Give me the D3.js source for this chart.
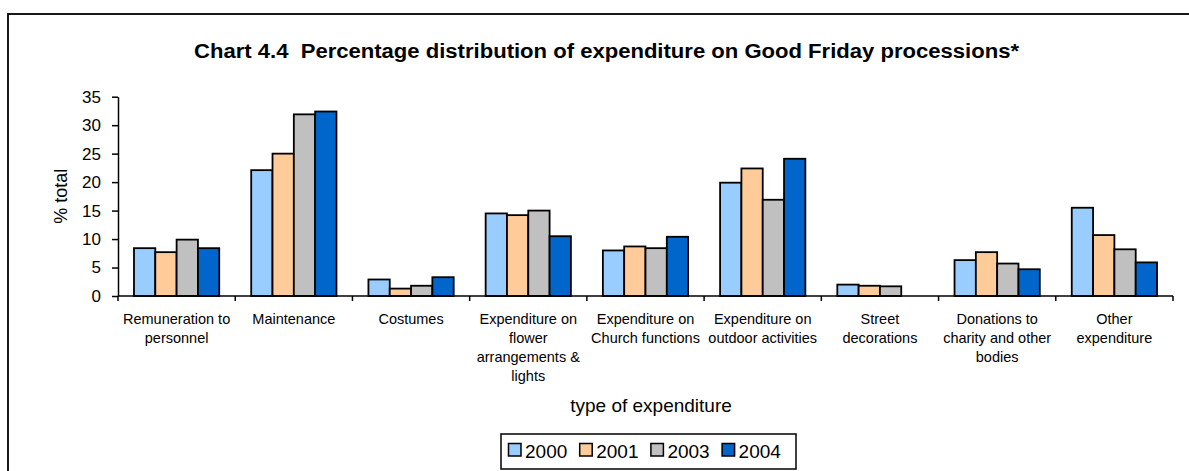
<!DOCTYPE html>
<meta charset="utf-8">
<style type="text/css">
  body {
    margin: 0;
    background: #fff;
  }

  svg {
    font-family: "Liberation Sans", Arial, sans-serif;
  }

  .bar {
    stroke: #000;
    stroke-width: 1.8;
  }

  .axis path,
  .axis line {
    stroke: #000;
    stroke-width: 1.5;
  }

  .yaxis text {
    font-size: 17px;
    fill: #000;
  }

  .title {
    white-space: pre;
  }
</style>

<body>
</body>
<script src="https://d3js.org/d3.v7.min.js"></script>
<script>
  // Chart 4.4 - expenditure on Good Friday processions, grouped bars by year

  var categories = [
    "Remuneration to personnel",
    "Maintenance",
    "Costumes",
    "Expenditure on flower arrangements & lights",
    "Expenditure on Church functions",
    "Expenditure on outdoor activities",
    "Street decorations",
    "Donations to charity and other bodies",
    "Other expenditure"
  ];

  // tick labels as they wrap under the axis
  var categoryLines = [
    ["Remuneration to", "personnel"],
    ["Maintenance"],
    ["Costumes"],
    ["Expenditure on", "flower", "arrangements &", "lights"],
    ["Expenditure on", "Church functions"],
    ["Expenditure on", "outdoor activities"],
    ["Street", "decorations"],
    ["Donations to", "charity and other", "bodies"],
    ["Other", "expenditure"]
  ];

  var years = ["2000", "2001", "2003", "2004"];

  var values2000 = [8.4, 22.1, 2.9, 14.5, 8.0, 19.9, 2.0, 6.3, 15.5];
  var values2001 = [7.7, 25.0, 1.3, 14.2, 8.7, 22.4, 1.8, 7.7, 10.7];
  var values2003 = [9.9, 31.9, 1.8, 15.0, 8.4, 16.9, 1.7, 5.7, 8.2];
  var values2004 = [8.4, 32.4, 3.3, 10.5, 10.4, 24.1, null, 4.7, 5.9];

  var yTicks = [0, 5, 10, 15, 20, 25, 30, 35];

  var seriesValues = [values2000, values2001, values2003, values2004];
  var colors = ["#99ccff", "#ffcc99", "#c0c0c0", "#0066cc"];

  var width = 1189,
    height = 471;

  var plot = {
    left: 118,
    right: 1173,
    top: 96.7,
    bottom: 296
  };

  var svg = d3.select("body").append("svg")
    .attr("width", width)
    .attr("height", height);

  // outer chart frame (runs off the right and bottom of the picture)
  svg.append("rect")
    .attr("x", 8)
    .attr("y", 14)
    .attr("width", 1200)
    .attr("height", 500)
    .attr("fill", "#fff")
    .attr("stroke", "#000")
    .attr("stroke-width", 1.8);

  svg.append("text")
    .attr("class", "title")
    .attr("x", 606.5)
    .attr("y", 58.3)
    .attr("text-anchor", "middle")
    .attr("textLength", 825)
    .attr("lengthAdjust", "spacingAndGlyphs")
    .style("font-size", "20px")
    .style("font-weight", "bold")
    .text("Chart 4.4  Percentage distribution of expenditure on Good Friday processions*");

  var x0 = d3.scaleBand()
    .domain(categories)
    .range([plot.left, plot.right])
    .padding(0);

  // gap width of 150% between groups
  var x1 = d3.scaleBand()
    .domain(years)
    .range([0, x0.bandwidth()])
    .paddingInner(0)
    .paddingOuter(0.75);

  var y = d3.scaleLinear()
    .domain([0, 35])
    .range([plot.bottom, plot.top]);

  // bars
  var groups = svg.selectAll(".group")
    .data(categories)
    .enter().append("g")
    .attr("class", "group")
    .attr("transform", function(d) {
      return "translate(" + x0(d) + ",0)";
    });

  groups.selectAll("rect")
    .data(function(d, i) {
      return years.map(function(yr, j) {
        return {
          year: yr,
          value: seriesValues[j][i],
          color: colors[j]
        };
      }).filter(function(e) {
        return e.value != null;
      });
    })
    .enter().append("rect")
    .attr("class", "bar")
    .attr("x", function(d) {
      return x1(d.year);
    })
    .attr("y", function(d) {
      return y(d.value);
    })
    .attr("width", x1.bandwidth())
    .attr("height", function(d) {
      return y(0) - y(d.value);
    })
    .attr("fill", function(d) {
      return d.color;
    });

  // y axis
  svg.append("g")
    .attr("class", "axis yaxis")
    .attr("transform", "translate(" + plot.left + ",0)")
    .call(d3.axisLeft(y).tickValues(yTicks).tickSize(6).tickSizeOuter(0).tickPadding(11));

  // x axis line with ticks on the category boundaries
  var xAxis = svg.append("g").attr("class", "axis xaxis");

  xAxis.append("line")
    .attr("x1", plot.left)
    .attr("x2", plot.right)
    .attr("y1", y(0))
    .attr("y2", y(0));

  var boundaries = categories.map(function(c) {
    return x0(c);
  }).concat([x0.range()[1]]);

  xAxis.selectAll(".tick")
    .data(boundaries)
    .enter().append("line")
    .attr("class", "tick")
    .attr("x1", function(d) {
      return d;
    })
    .attr("x2", function(d) {
      return d;
    })
    .attr("y1", y(0))
    .attr("y2", y(0) + 5);

  // category labels
  var labels = svg.selectAll(".catlabel")
    .data(categories)
    .enter().append("text")
    .attr("class", "catlabel")
    .attr("text-anchor", "middle")
    .style("font-size", "14.5px")
    .attr("fill", "#000");

  labels.selectAll("tspan")
    .data(function(d, i) {
      return categoryLines[i].map(function(line) {
        return {
          cat: d,
          line: line
        };
      });
    })
    .enter().append("tspan")
    .attr("x", function(d) {
      return x0(d.cat) + x0.bandwidth() / 2;
    })
    .attr("y", function(d, i) {
      return 323.5 + i * 19;
    })
    .text(function(d) {
      return d.line;
    });

  // axis titles
  svg.append("text")
    .attr("x", 651)
    .attr("y", 412)
    .attr("text-anchor", "middle")
    .style("font-size", "19px")
    .text("type of expenditure");

  svg.append("text")
    .attr("transform", "translate(67," + (plot.top + plot.bottom) / 2 + ") rotate(-90)")
    .attr("text-anchor", "middle")
    .style("font-size", "18px")
    .text("% total");

  // legend
  var legend = svg.append("g")
    .attr("transform", "translate(501,434)");

  legend.append("rect")
    .attr("width", 295)
    .attr("height", 35)
    .attr("fill", "#fff")
    .attr("stroke", "#000")
    .attr("stroke-width", 1.5);

  var item = legend.selectAll(".item")
    .data(years)
    .enter().append("g")
    .attr("class", "item")
    .attr("transform", function(d, i) {
      return "translate(" + (7.5 + i * 71.2) + ",0)";
    });

  item.append("rect")
    .attr("y", 9.5)
    .attr("width", 12.5)
    .attr("height", 12.5)
    .attr("fill", function(d, i) {
      return colors[i];
    })
    .attr("stroke", "#000")
    .attr("stroke-width", 1.5);

  item.append("text")
    .attr("x", 16.5)
    .attr("y", 23.5)
    .style("font-size", "19px")
    .text(function(d) {
      return d;
    });
</script>
